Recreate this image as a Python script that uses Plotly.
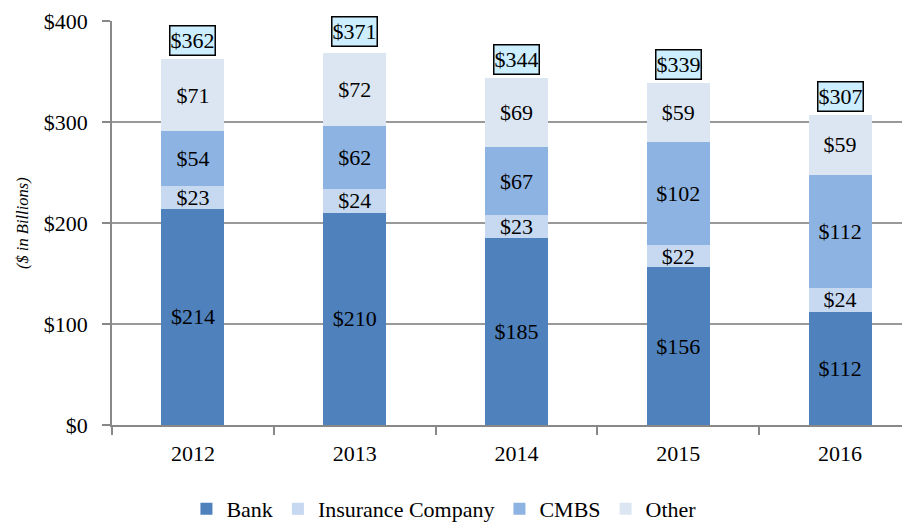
import plotly.graph_objects as go

years = ["2012", "2013", "2014", "2015", "2016"]
bank = [214, 210, 185, 156, 112]
insurance = [23, 24, 23, 22, 24]
cmbs = [54, 62, 67, 102, 112]
other = [71, 72, 69, 59, 59]
totals = [362, 371, 344, 339, 307]

series = [
    ("Bank", bank, "#4F81BD"),
    ("Insurance Company", insurance, "#C6D9F1"),
    ("CMBS", cmbs, "#8DB3E2"),
    ("Other", other, "#DCE6F2"),
]

FONT = "Liberation Serif, Times New Roman, serif"

# page has an 8px body margin, so the figure is sized/offset accordingly
W, H = 902, 515
ML, MR, MT, MB = 104, 2, 13, 98
PW = W - ML - MR

fig = go.Figure()
for name, vals, color in series:
    fig.add_trace(go.Bar(
        x=years, y=vals, name=name,
        marker=dict(color=color, line=dict(width=0)),
        text=[f"${v}" for v in vals],
        textposition="inside", insidetextanchor="middle",
        constraintext="none",
        textfont=dict(family=FONT, size=22, color="black"),
        width=0.39,
    ))

for idx, tot in enumerate(totals):
    fig.add_annotation(
        x=idx, y=tot, xref="x", yref="y", text=f"${tot}", showarrow=False,
        yanchor="bottom", yshift=3, width=44, height=28,
        font=dict(family=FONT, size=22, color="black"),
        bgcolor="#CCEEFF", bordercolor="black", borderwidth=1.5, borderpad=0,
    )

fig.add_annotation(
    x=(14 - ML) / PW, xref="paper", xanchor="center", y=0.5, yref="paper", yanchor="middle",
    text="<i>($ in Billions)</i>", showarrow=False, textangle=-90,
    font=dict(family=FONT, size=16.5, color="black"),
)

fig.update_layout(
    barmode="stack",
    width=W, height=H,
    margin=dict(l=ML, r=MR, t=MT, b=MB, autoexpand=False),
    paper_bgcolor="white", plot_bgcolor="white",
    font=dict(family=FONT, size=22, color="black"),
    showlegend=True,
    legend=dict(orientation="h", x=0.417, xanchor="center", y=-0.156, yanchor="top",
                font=dict(family=FONT, size=22), traceorder="normal",
                itemwidth=30, tracegroupgap=0),
    xaxis=dict(type="category", range=[-0.5, 4.42], showline=True, linecolor="#888888",
               linewidth=1.5, ticks="outside", tickson="boundaries", ticklen=8,
               tickcolor="#888888", tickwidth=1.5, showgrid=False, automargin=False,
               ticklabelstandoff=8, ticklabeloverflow="allow",
               tickfont=dict(family=FONT, size=22)),
    yaxis=dict(range=[0, 400], dtick=100, tickprefix="$", showline=True,
               linecolor="#888888", linewidth=1.5, ticks="outside", ticklen=8,
               tickcolor="#888888", tickwidth=1.5, showgrid=True,
               gridcolor="#999999", gridwidth=1.5, zeroline=False, automargin=False,
               ticklabelstandoff=10, ticklabeloverflow="allow",
               tickfont=dict(family=FONT, size=22)),
)

fig.write_html("out.html")
